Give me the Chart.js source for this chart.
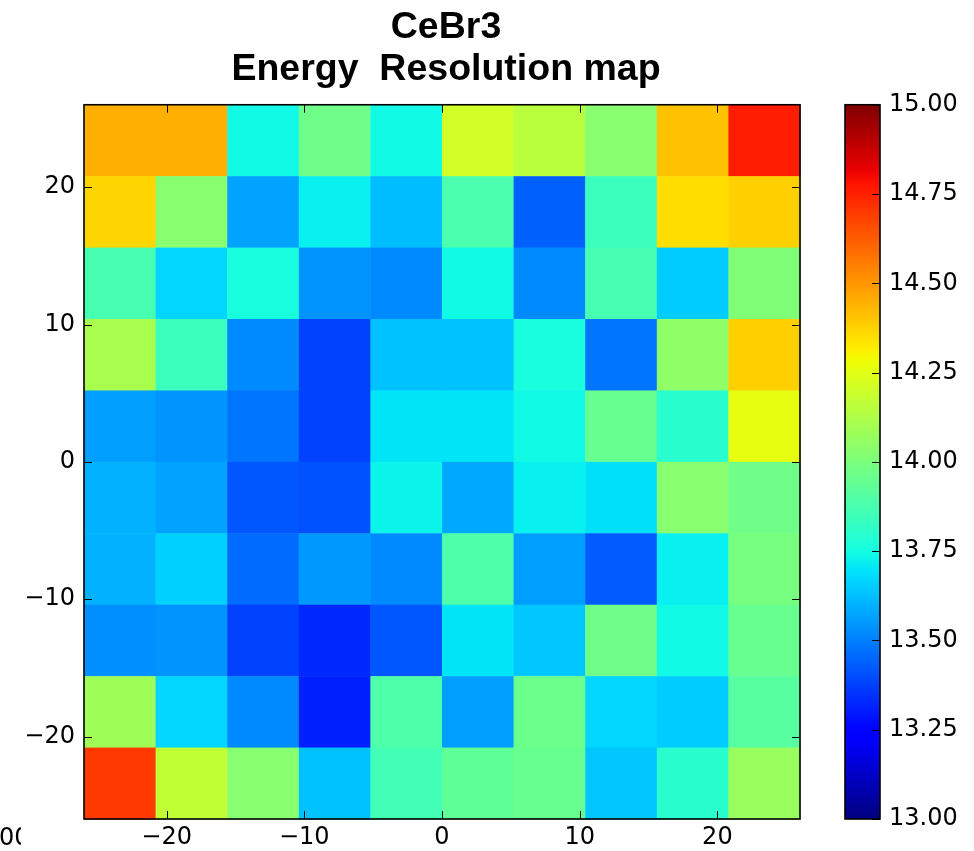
<!DOCTYPE html>
<html>
<head>
<meta charset="utf-8">
<script src="https://cdn.jsdelivr.net/npm/chart.js@4/dist/chart.umd.min.js"></script>
<style>
  html, body { margin: 0; padding: 0; background: #fff; }
  #wrap { position: relative; width: 974px; height: 851px; }
</style>
</head>
<body>
<div id="wrap"><canvas id="resmap" width="974" height="851"></canvas></div>
<script>
// cell centres (mm), rows listed from top (y = 23.4) to bottom
const xCenters = [-23.4, -18.2, -13.0, -7.8, -2.6, 2.6, 7.8, 13.0, 18.2, 23.4];
const yCenters = [23.4, 18.2, 13.0, 7.8, 2.6, -2.6, -7.8, -13.0, -18.2, -23.4];
const cellSize = 5.2;

// energy resolution per cell (%)
const resolution = [
  [14.45, 14.45, 13.74, 13.97, 13.74, 14.21, 14.15, 14.03, 14.41, 14.76],
  [14.37, 14.03, 13.57, 13.72, 13.62, 13.88, 13.44, 13.84, 14.35, 14.38],
  [13.87, 13.67, 13.76, 13.54, 13.52, 13.74, 13.52, 13.87, 13.65, 14.01],
  [14.11, 13.84, 13.52, 13.38, 13.63, 13.63, 13.76, 13.48, 14.05, 14.38],
  [13.56, 13.54, 13.48, 13.38, 13.70, 13.70, 13.74, 13.95, 13.80, 14.26],
  [13.60, 13.57, 13.42, 13.41, 13.73, 13.58, 13.72, 13.69, 14.03, 13.97],
  [13.60, 13.66, 13.46, 13.55, 13.52, 13.89, 13.56, 13.43, 13.72, 13.99],
  [13.53, 13.54, 13.38, 13.33, 13.42, 13.70, 13.64, 13.97, 13.74, 13.95],
  [14.09, 13.67, 13.52, 13.31, 13.89, 13.56, 13.96, 13.67, 13.65, 13.91],
  [14.70, 14.17, 14.03, 13.63, 13.86, 13.93, 13.95, 13.64, 13.80, 14.07]
];

const xTicks = [-20, -10, 0, 10, 20];
const yTicks = [-20, -10, 0, 10, 20];
const cbTicks = [13.00, 13.25, 13.50, 13.75, 14.00, 14.25, 14.50, 14.75, 15.00];
const vMin = 13, vMax = 15;

// matplotlib "jet"
const jetR = [[0, 0], [0.35, 0], [0.66, 1], [0.89, 1], [1, 0.5]];
const jetG = [[0, 0], [0.125, 0], [0.375, 1], [0.64, 1], [0.91, 0], [1, 0]];
const jetB = [[0, 0.5], [0.11, 1], [0.34, 1], [0.65, 0], [1, 0]];
function seg(pts, t) {
  for (let i = 1; i < pts.length; i++) {
    if (t <= pts[i][0]) {
      const a = pts[i - 1], b = pts[i];
      return a[1] + (b[1] - a[1]) * (t - a[0]) / (b[0] - a[0]);
    }
  }
  return pts[pts.length - 1][1];
}
function jet(v) {
  let t = (v - vMin) / (vMax - vMin);
  t = Math.max(0, Math.min(1, t));
  const c = [jetR, jetG, jetB].map(p => Math.round(seg(p, t) * 255));
  return 'rgb(' + c.join(',') + ')';
}

let points = [];
yCenters.forEach((y, r) => {
  xCenters.forEach((x, c) => {
    points.push({x: x, y: y, v: resolution[r][c]});
  });
});

const minus = v => v < 0 ? '\u2212' + Math.abs(v) : String(v);
const tickFont = {family: 'DejaVu Sans', size: 24};

const heatmap = {
  id: 'heatmap',
  afterLayout(chart) {
    // centre the title over the axes, as matplotlib does
    const t = chart.titleBlock;
    t.left = chart.chartArea.left + 4;
    t.right = chart.chartArea.right + 4;
  },
  beforeDatasetsDraw(chart) {
    const ctx = chart.ctx, xs = chart.scales.x, ys = chart.scales.y;
    const h = cellSize / 2;
    ctx.save();
    chart.data.datasets[0].data.forEach(p => {
      const x0 = xs.getPixelForValue(p.x - h), x1 = xs.getPixelForValue(p.x + h);
      const y0 = ys.getPixelForValue(p.y + h), y1 = ys.getPixelForValue(p.y - h);
      ctx.fillStyle = jet(p.v);
      ctx.fillRect(x0, y0, x1 - x0 + 0.5, y1 - y0 + 0.5);
    });
    ctx.restore();
  },
  afterDraw(chart) {
    const ctx = chart.ctx, a = chart.chartArea;
    const xs = chart.scales.x, ys = chart.scales.y, cb = chart.scales.cb;
    ctx.save();
    ctx.strokeStyle = '#000';
    ctx.lineWidth = 1;
    ctx.beginPath();
    xTicks.forEach(v => {
      const x = Math.round(xs.getPixelForValue(v)) + 0.5;
      ctx.moveTo(x, a.bottom); ctx.lineTo(x, a.bottom - 8);
      ctx.moveTo(x, a.top); ctx.lineTo(x, a.top + 8);
    });
    yTicks.forEach(v => {
      const y = Math.round(ys.getPixelForValue(v)) + 0.5;
      ctx.moveTo(a.left, y); ctx.lineTo(a.left + 8, y);
      ctx.moveTo(a.right, y); ctx.lineTo(a.right - 8, y);
    });
    ctx.stroke();
    ctx.lineWidth = 1.6;
    ctx.strokeRect(a.left, a.top, a.right - a.left, a.bottom - a.top);

    // colour bar
    const cl = a.right + 45, cw = 35;
    const ct = cb.getPixelForValue(vMax), cbot = cb.getPixelForValue(vMin);
    const g = ctx.createLinearGradient(0, cbot, 0, ct);
    for (let i = 0; i <= 100; i++) g.addColorStop(i / 100, jet(vMin + (vMax - vMin) * i / 100));
    ctx.fillStyle = g;
    ctx.fillRect(cl, ct, cw, cbot - ct);
    ctx.lineWidth = 1;
    ctx.beginPath();
    cbTicks.forEach(v => {
      const y = Math.round(cb.getPixelForValue(v)) + 0.5;
      ctx.moveTo(cl + cw, y); ctx.lineTo(cl + cw - 8, y);
    });
    ctx.stroke();
    ctx.lineWidth = 1.6;
    ctx.strokeRect(cl, ct, cw, cbot - ct);

    // clipped label fragment at the lower left edge
    ctx.beginPath();
    ctx.rect(0, a.bottom, 21, 40);
    ctx.clip();
    ctx.fillStyle = '#000';
    ctx.font = '24px "DejaVu Sans"';
    ctx.textBaseline = 'alphabetic';
    ctx.fillText('00', -1, 845);
    ctx.restore();
  }
};

new Chart(document.getElementById('resmap'), {
  type: 'scatter',
  data: {
    datasets: [{
      data: points,
      pointRadius: 0,
      pointHoverRadius: 0
    }]
  },
  options: {
    responsive: false,
    animation: false,
    events: [],
    layout: {padding: 0},
    plugins: {
      legend: {display: false},
      tooltip: {enabled: false},
      title: {
        display: true,
        text: ['CeBr3', 'Energy  Resolution map'],
        color: '#000',
        font: {family: 'Liberation Sans', size: 37.5, weight: 'bold', lineHeight: 1.13},
        padding: {top: 6, bottom: 14}
      }
    },
    scales: {
      x: {
        type: 'linear',
        min: -26, max: 26,
        afterBuildTicks: s => { s.ticks = xTicks.map(v => ({value: v})); },
        afterFit: s => { s.height = 32; },
        grid: {display: false, drawTicks: false},
        border: {display: false},
        ticks: {color: '#000', font: tickFont, padding: 4, maxRotation: 0, callback: minus}
      },
      y: {
        type: 'linear',
        min: -26, max: 26,
        afterBuildTicks: s => { s.ticks = yTicks.map(v => ({value: v})); },
        afterFit: s => { s.width = 84; },
        grid: {display: false, drawTicks: false},
        border: {display: false},
        ticks: {color: '#000', font: tickFont, padding: 9, callback: minus}
      },
      cb: {
        type: 'linear',
        axis: 'y',
        position: 'right',
        min: vMin, max: vMax,
        afterBuildTicks: s => { s.ticks = cbTicks.map(v => ({value: v})); },
        // the big label offset must not push the plot area in
        afterFit: s => { s.width = 174; s.paddingTop = 0; s.paddingBottom = 0; },
        grid: {display: false, drawTicks: false},
        border: {display: false},
        ticks: {color: '#000', font: tickFont, padding: 89, callback: v => v.toFixed(2)}
      }
    }
  },
  plugins: [heatmap]
});
</script>
</body>
</html>
